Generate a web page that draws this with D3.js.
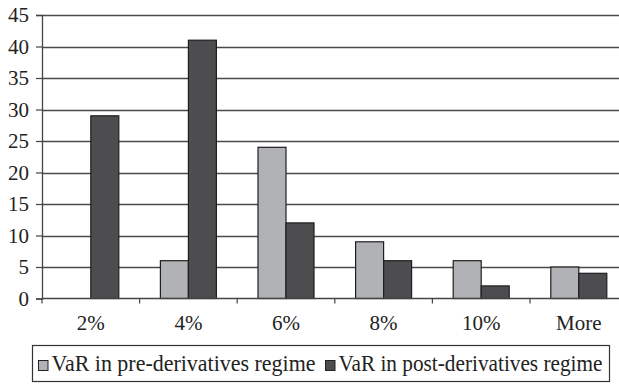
<!DOCTYPE html>
<html>
<head>
<meta charset="utf-8">
<script src="https://cdn.jsdelivr.net/npm/d3@7"></script>
</head>
<body style="margin:0">
<svg id="chart" width="619" height="384"></svg>
<script>
// Histogram bins and counts for the two regimes
const categories = ["2%", "4%", "6%", "8%", "10%", "More"];
const preValues  = [0, 6, 24, 9, 6, 5];
const postValues = [29, 41, 12, 6, 2, 4];
const yTicks = [0, 5, 10, 15, 20, 25, 30, 35, 40, 45];
const seriesNames = ["VaR in pre-derivatives regime", "VaR in post-derivatives regime"];
const seriesColors = ["#b1b2b5", "#4d4d50"];

const svg = d3.select("#chart");
const plotLeft = 42, plotTop = 15, plotBottom = 298.5;
const bandW = 97.6;

// serif label helper, appended straight onto the svg
function label(xPos, yPos, str, size, anchor) {
  return svg.append("text")
    .attr("x", xPos).attr("y", yPos)
    .attr("text-anchor", anchor)
    .style("font-family", "'Times New Roman', 'Liberation Serif', Georgia")
    .style("font-size", size + "px")
    .attr("fill", "#222")
    .text(str);
}

const x = d3.scaleBand()
  .domain(categories)
  .range([plotLeft, plotLeft + bandW * categories.length])
  .paddingInner(0).paddingOuter(0);

const y = d3.scaleLinear().domain([0, 45]).range([plotBottom, plotTop]);

// horizontal gridlines
svg.append("g")
  .selectAll("line")
  .data(yTicks.filter(d => d > 0))
  .join("line")
  .attr("x1", plotLeft).attr("x2", 619)
  .attr("y1", d => Math.round(y(d)) + 0.5).attr("y2", d => Math.round(y(d)) + 0.5)
  .attr("stroke", "#4a4a4a").attr("stroke-width", 1.3);

// bars
const barW = 28;
const groups = svg.append("g");
categories.forEach((c, i) => {
  const cx = x(c) + x.bandwidth() / 2;
  [preValues[i], postValues[i]].forEach((v, s) => {
    if (v <= 0) return;
    groups.append("rect")
      .attr("x", cx - barW + s * barW)
      .attr("y", y(v))
      .attr("width", barW)
      .attr("height", y(0) - y(v))
      .attr("fill", seriesColors[s])
      .attr("stroke", "#1e1e1e")
      .attr("stroke-width", 1.2);
  });
});

// y axis line and ticks
const yAxis = d3.axisLeft(y).tickValues(yTicks).tickSize(6).tickFormat("");
const yg = svg.append("g").attr("transform", `translate(${plotLeft},0)`).call(yAxis);
yg.select(".domain").attr("stroke", "#444").attr("stroke-width", 1.3);
yg.selectAll(".tick line").attr("stroke", "#444").attr("stroke-width", 1.2);
yTicks.forEach(t => label(plotLeft - 13, y(t) + 7, t, 21, "end"));

// x axis baseline with boundary ticks
svg.append("line")
  .attr("x1", plotLeft).attr("x2", 619)
  .attr("y1", plotBottom).attr("y2", plotBottom)
  .attr("stroke", "#444").attr("stroke-width", 1.3);
svg.append("g").selectAll("line")
  .data(categories)
  .join("line")
  .attr("x1", d => x(d)).attr("x2", d => x(d))
  .attr("y1", plotBottom).attr("y2", plotBottom + 5)
  .attr("stroke", "#444").attr("stroke-width", 1.2);
categories.forEach(c => label(x(c) + x.bandwidth() / 2, 329.5, c, 21, "middle"));

// legend
svg.append("rect")
  .attr("x", 32.5).attr("y", 345.5).attr("width", 577).attr("height", 36)
  .attr("fill", "#fff").attr("stroke", "#333").attr("stroke-width", 1.2);
const legendX = [38.5, 325.5];
const legendTextW = [264, 264];
seriesNames.forEach((name, i) => {
  svg.append("rect")
    .attr("x", legendX[i]).attr("y", 360.5).attr("width", 9.5).attr("height", 10)
    .attr("fill", seriesColors[i]).attr("stroke", "#222").attr("stroke-width", 1);
  label(legendX[i] + 13, 370.5, name, 23, "start")
    .attr("textLength", legendTextW[i])
    .attr("lengthAdjust", "spacingAndGlyphs");
});
</script>
</body>
</html>
